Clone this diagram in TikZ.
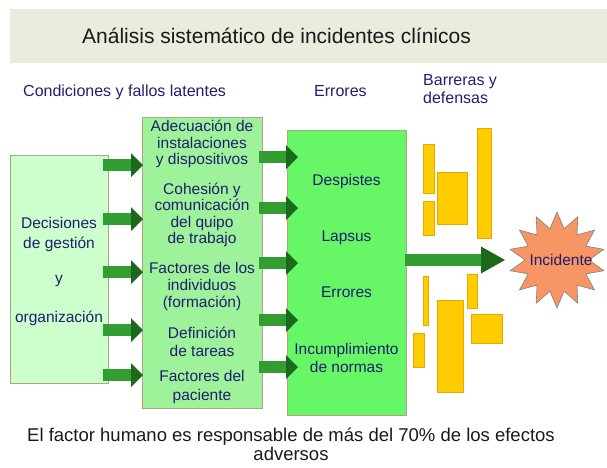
\documentclass[tikz,border=0pt]{standalone}
\usepackage{fontspec}
\setmainfont{Liberation Sans}
\usetikzlibrary{arrows.meta,shapes.geometric}
\definecolor{banda}{RGB}{233,237,221}
\definecolor{azultexto}{RGB}{32,30,112}
\definecolor{negrotexto}{RGB}{25,25,25}
\definecolor{verdepalido}{RGB}{204,255,204}
\definecolor{verdemedio}{RGB}{158,242,154}
\definecolor{verdevivo}{RGB}{102,246,102}
\definecolor{bordecaja}{RGB}{170,165,130}
\definecolor{amarillo}{RGB}{255,204,0}
\definecolor{bordeamarillo}{RGB}{232,168,0}
\definecolor{salmon}{RGB}{247,150,100}
\definecolor{flechaclara}{RGB}{50,158,50}
\definecolor{flechaoscura}{RGB}{28,105,28}
\begin{document}
\begin{tikzpicture}[x=1pt,y=-1pt,
    caja/.style={draw=bordecaja,line width=0.6pt,inner sep=0pt,anchor=north west},
    texto/.style={text=azultexto,align=center,inner sep=0pt,font=\fontsize{15.5}{16.5}\selectfont},
    rotulo/.style={text=azultexto,align=left,inner sep=0pt,font=\fontsize{16}{18}\selectfont},
    flecha/.style={flechaclara,line width=12pt,-{Triangle[length=12pt,width=24pt,line width=0pt,color=flechaoscura]}},
    barra/.style={fill=amarillo,draw=bordeamarillo,line width=0.5pt}]
  \useasboundingbox (0,0) rectangle (607,467);
  \fill[banda] (10,9) rectangle (607,63);
  \node[anchor=base,inner sep=0pt,text=negrotexto,font=\fontsize{21}{24}\selectfont] (titulo) at (276.5,43) {Análisis sistemático de incidentes clínicos};
  \node[rotulo,anchor=base west] (lblcond) at (23,96) {Condiciones y fallos latentes};
  \node[rotulo,anchor=base west] (lblerr) at (314,96) {Errores};
  \node[rotulo,anchor=north west] (lblbarr) at (423,74.5) {Barreras y\\defensas};

  \node[caja,fill=verdepalido,minimum width=98pt,minimum height=228pt] (gestion) at (10,155) {};
  \node[caja,fill=verdemedio,minimum width=120pt,minimum height=291pt] (factores) at (142,117) {};
  \node[caja,fill=verdevivo,minimum width=119pt,minimum height=285pt] (errores) at (287,130) {};

  \node[texto,font=\fontsize{15.5}{20}\selectfont] (decisiones) at (59,271) {Decisiones\\de gestión\\[15pt]y\\[19pt]organización};

  \node[texto] (adecuacion) at (202,144) {Adecuación de\\instalaciones\\y dispositivos};
  \node[texto] (cohesion) at (202,215) {Cohesión y\\comunicación\\del quipo\\de trabajo};
  \node[texto,font=\fontsize{15.5}{17}\selectfont] (individuos) at (202,286) {Factores de los\\individuos\\(formación)};
  \node[texto,font=\fontsize{15.5}{18}\selectfont] (definicion) at (202,342) {Definición\\de tareas};
  \node[texto,font=\fontsize{15.5}{19}\selectfont] (paciente) at (202,387) {Factores del\\paciente};

  \node[texto] (despistes) at (346.5,181) {Despistes};
  \node[texto] (lapsus) at (346.5,238) {Lapsus};
  \node[texto] (err) at (346.5,292) {Errores};
  \node[texto,font=\fontsize{15.5}{18}\selectfont] (normas) at (346.5,358) {Incumplimiento\\de normas};

  \draw[flecha] ([xshift=-6pt]gestion.east |- 0,165) -- ([xshift=1pt]factores.west |- 0,165);
  \draw[flecha] ([xshift=-6pt]gestion.east |- 0,219) -- ([xshift=1pt]factores.west |- 0,219);
  \draw[flecha] ([xshift=-6pt]gestion.east |- 0,272) -- ([xshift=1pt]factores.west |- 0,272);
  \draw[flecha] ([xshift=-6pt]gestion.east |- 0,330) -- ([xshift=1pt]factores.west |- 0,330);
  \draw[flecha] ([xshift=-6pt]gestion.east |- 0,375) -- ([xshift=1pt]factores.west |- 0,375);

  \draw[flecha] ([xshift=-4pt]factores.east |- 0,157) -- ([xshift=11pt]errores.west |- 0,157);
  \draw[flecha] ([xshift=-4pt]factores.east |- 0,208) -- ([xshift=11pt]errores.west |- 0,208);
  \draw[flecha] ([xshift=-4pt]factores.east |- 0,263) -- ([xshift=11pt]errores.west |- 0,263);
  \draw[flecha] ([xshift=-4pt]factores.east |- 0,320) -- ([xshift=11pt]errores.west |- 0,320);
  \draw[flecha] ([xshift=-4pt]factores.east |- 0,367) -- ([xshift=11pt]errores.west |- 0,367);

  \draw[barra] (423,144) rectangle (434,193);
  \draw[barra] (423,201) rectangle (434,235);
  \draw[barra] (437,172) rectangle (467,224);
  \draw[barra] (477,128) rectangle (491,238);
  \draw[barra] (423,276) rectangle (428,325);
  \draw[barra] (413,333) rectangle (424,367);
  \draw[barra] (437,300) rectangle (463,392);
  \draw[barra] (467,274) rectangle (477,308);
  \draw[barra] (471,314) rectangle (502,343);

  \node[star,star points=14,star point ratio=1.5,minimum size=96pt,inner sep=0pt,fill=salmon,draw=gray,line width=0.6pt,text=azultexto,font=\fontsize{15.5}{16.5}\selectfont] (incidente) at (557,260) {\makebox[0pt]{\hspace{8pt}Incidente}};
  \draw[flecha,-{Triangle[length=24pt,width=27pt,line width=0pt,color=flechaoscura]}] ([xshift=-2pt]errores.east |- 0,260) -- ([xshift=-52pt]incidente.center);

  \node[anchor=north,align=center,inner sep=0pt,text=negrotexto,font=\fontsize{18.5}{19}\selectfont] (conclusion) at (291,428) {El factor humano es responsable de más del 70\% de los efectos\\adversos};
\end{tikzpicture}
\end{document}
